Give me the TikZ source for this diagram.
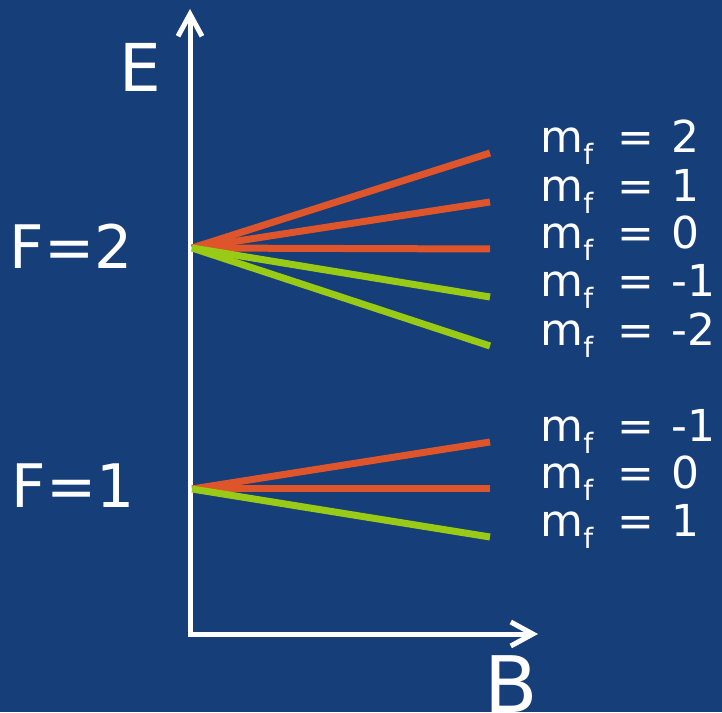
\documentclass[tikz,border=0pt]{standalone}
\usepackage{fontspec}
\setmainfont{DejaVu Sans}
\usetikzlibrary{arrows.meta, positioning}
\definecolor{bgblue}{HTML}{163E78}
\definecolor{uplevel}{HTML}{DE552B}
\definecolor{downlevel}{HTML}{99CB16}
\newcommand{\mflab}[1]{m\raisebox{-6pt}{\fontsize{14}{14}\selectfont f}\hspace{12pt}=\hspace{9pt}#1}
\tikzset{
  axis/.style={white, line width=2.5pt, line join=miter,
    {Straight Barb[length=11pt, width=12pt, line width=2.5pt]}-{Straight Barb[length=11pt, width=12pt, line width=2.5pt]}},
  level/.style={line width=3.5pt},
  biglabel/.style={text=white, inner sep=0pt, font=\fontsize{30}{36}\selectfont},
  mflabel/.style={text=white, inner sep=0pt, anchor=base west, font=\fontsize{22}{26}\selectfont}
}
\begin{document}
\begin{tikzpicture}[x=0.5pt, y=-0.5pt]
  \fill[bgblue] (0,0) rectangle (722,712);
  % axes
  \coordinate (Etip) at (190,9);
  \coordinate (origin) at (190,634);
  \coordinate (Btip) at (538,634);
  \draw[axis] (Etip) -- (origin) -- (Btip);
  \node[biglabel, font=\fontsize{33}{40}\selectfont] (Elabel) at (140,67) {E};
  \node[biglabel, font=\fontsize{39}{46}\selectfont] (Blabel) at (511,684) {B};
  % hyperfine levels
  \node[biglabel] (F2) at (71,246) {F=2};
  \node[biglabel] (F1) at (73,486) {F=1};
  \coordinate (split2) at (192,248);
  \coordinate (split1) at (192,489);
  % F=2 sublevels
  \foreach \y/\col/\m [count=\i] in {153/uplevel/2, 202/uplevel/1, 249/uplevel/0, 297/downlevel/-1, 346/downlevel/-2}{
    \coordinate (endtwo\i) at (490,\y);
    \draw[level, \col] (split2) -- (endtwo\i);
    \node[mflabel] (mftwo\i) at (540,\y) {\mflab{\m}};
  }
  % F=1 sublevels
  \foreach \y/\col/\m [count=\i] in {442/uplevel/-1, 489/uplevel/0, 537/downlevel/1}{
    \coordinate (endone\i) at (490,\y);
    \draw[level, \col] (split1) -- (endone\i);
    \node[mflabel] (mfone\i) at (540,\y) {\mflab{\m}};
  }
\end{tikzpicture}
\end{document}
